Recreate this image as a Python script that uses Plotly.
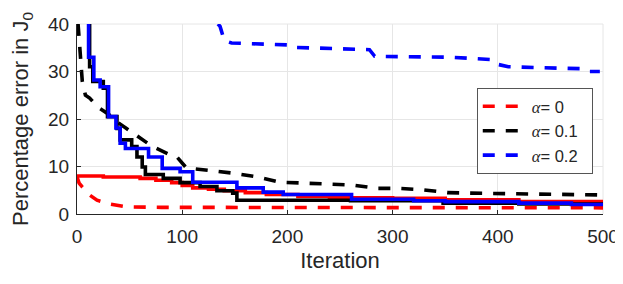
import plotly.graph_objects as go

# dashed series (legend)
dr_x = [0, 2, 5, 12, 19, 31, 47, 80, 500]
dr_y = [7.8, 6.5, 5.7, 4.0, 2.9, 2.1, 1.5, 1.4, 1.3]

dk_x = [1, 3, 5, 8, 12, 21, 30, 38, 56, 71, 89, 95, 104, 129, 148, 172, 193, 239, 262, 285, 305, 329, 352, 374, 500]
dk_y = [40, 33, 28, 25, 24.4, 22.3, 21, 19.4, 16.6, 14.3, 12.4, 12, 9.7, 9.1, 8.6, 7.8, 6.7, 6.3, 6.1, 5.4, 5.4, 5.1, 4.5, 4.4, 4.0]

db_x = [134, 136, 140, 147, 200, 203, 278, 283, 355, 380, 395, 400, 410, 440, 480, 485, 497]
db_y = [40, 39.5, 36.5, 36.0, 35.6, 35.1, 34.6, 33.2, 33.0, 32.8, 32.5, 31.5, 31.0, 30.8, 30.6, 30.0, 30.0]

# solid series (no legend)
sr_x = [0, 25, 60, 75, 90, 100, 110, 125, 140, 160, 180, 210, 240, 300, 350, 420, 500]
sr_y = [8.0, 7.8, 7.5, 7.1, 6.6, 6.0, 5.5, 5.2, 4.9, 4.5, 4.1, 3.7, 3.4, 3.3, 3.0, 2.6, 2.2]

sk_x = [10, 12, 15, 25, 29, 38, 41, 52, 57, 62, 65, 82, 98, 117, 133, 148, 152, 260, 348, 420, 500]
sk_y = [40, 31, 27.9, 26.5, 20.5, 18, 15.6, 14.2, 12, 9.9, 8.3, 7.5, 6.6, 5.8, 4.9, 4.4, 2.9, 2.8, 2.3, 2.1, 2.0]

sb_x = [10, 11, 16, 22, 30, 37, 41, 46, 68, 81, 98, 110, 152, 177, 196, 261, 320, 350, 420, 470, 500]
sb_y = [40, 33, 28.2, 26.8, 20.5, 18.1, 14.9, 13.8, 12, 9.6, 8.9, 6.7, 5.5, 4.6, 4.1, 3.1, 2.8, 2.6, 2.3, 2.0, 2.0]

x_ticks = [0, 100, 200, 300, 400, 500]
y_ticks = [0, 10, 20, 30, 40]
labels = ["0", "0.1", "0.2"]

RED, BLACK, BLUE = "#ff0000", "#000000", "#0000ff"
DASH = "12px,11px"
LW = 3.6

def alpha_label(v):
    return "<span style='font-family:Liberation Serif;font-style:italic'>α</span>= " + v + "\u00a0\u00a0"

fig = go.Figure()
for xs, ys, c, lab in [(dr_x, dr_y, RED, labels[0]), (dk_x, dk_y, BLACK, labels[1]), (db_x, db_y, BLUE, labels[2])]:
    fig.add_trace(go.Scatter(x=xs, y=ys, mode="lines", name=alpha_label(lab),
                             line=dict(color=c, width=LW, dash=DASH)))
for xs, ys, c in [(sr_x, sr_y, RED), (sk_x, sk_y, BLACK), (sb_x, sb_y, BLUE)]:
    fig.add_trace(go.Scatter(x=xs, y=ys, mode="lines", showlegend=False,
                             line=dict(color=c, width=LW, shape="hv")))

font = "Liberation Sans, Arial, Helvetica, sans-serif"
# page body has an 8px margin, so the figure is offset by 8px
fig.update_layout(
    width=615, height=276,
    margin=dict(l=69, r=20, t=16, b=70),
    paper_bgcolor="white", plot_bgcolor="white",
    font=dict(family=font, color="#262626", size=19),
    xaxis=dict(range=[0, 500], tickvals=x_ticks, showgrid=True, gridcolor="#e6e6e6", gridwidth=1,
               showline=True, linecolor="#262626", linewidth=1, ticks="inside", ticklen=4,
               tickcolor="#262626", zeroline=False, tickfont=dict(size=19), automargin=False,
               ticklabelstandoff=5,
               title=dict(text="Iteration", font=dict(size=22), standoff=6)),
    yaxis=dict(range=[0, 40], tickvals=y_ticks, showgrid=True, gridcolor="#e6e6e6", gridwidth=1,
               showline=True, linecolor="#262626", linewidth=1, ticks="inside", ticklen=4,
               tickcolor="#262626", zeroline=False, tickfont=dict(size=19), automargin=False,
               ticklabelstandoff=3,
               title=dict(text="Percentage error in J<sub>0</sub>", font=dict(size=22), standoff=21)),
    legend=dict(x=0.76, y=0.663, xanchor="left", yanchor="top", bgcolor="white",
                bordercolor="#555555", borderwidth=1, font=dict(size=16.5),
                tracegroupgap=0, itemwidth=44),
    showlegend=True,
)
fig.add_shape(type="line", xref="paper", yref="paper", x0=0, x1=1, y0=1, y1=1,
              line=dict(color="#e6e6e6", width=1), layer="below")
fig.add_shape(type="line", xref="paper", yref="paper", x0=1, x1=1, y0=0, y1=1,
              line=dict(color="#e6e6e6", width=1), layer="below")
fig.write_html("out.html")
